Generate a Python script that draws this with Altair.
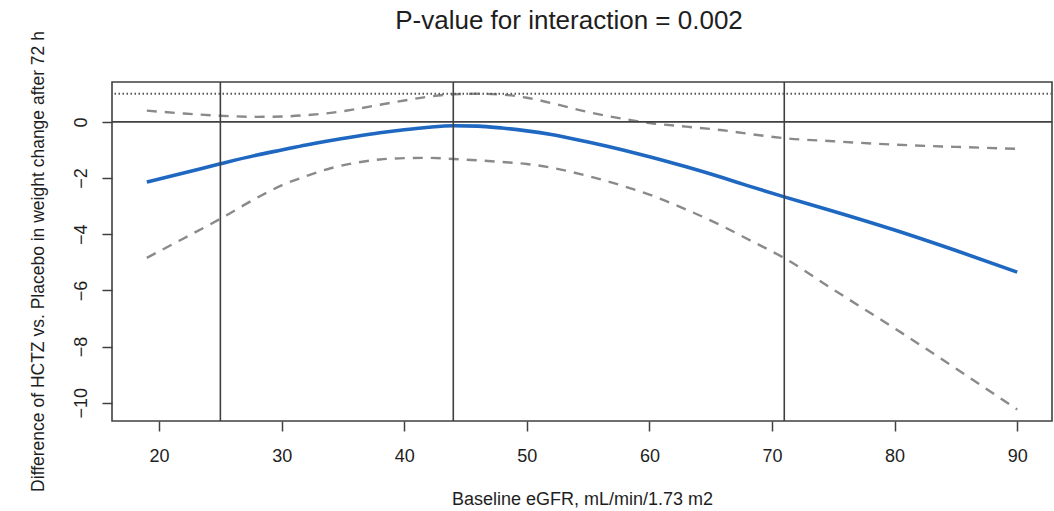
import altair as alt
import pandas as pd

# Baseline eGFR grid (mL/min/1.73 m2) and the fitted spline with its 95% CI
egfr = [19, 22, 25, 28, 30, 32, 34, 36, 38, 40, 42, 44, 46, 48, 50, 52, 55, 58,
        60, 63, 66, 68, 71, 75, 80, 85, 90]
estimate = [-2.14, -1.82, -1.49, -1.18, -1.00, -0.82, -0.66, -0.52, -0.39, -0.28,
            -0.19, -0.14, -0.15, -0.22, -0.32, -0.45, -0.72, -1.02, -1.24, -1.60,
            -1.99, -2.27, -2.67, -3.18, -3.85, -4.58, -5.35]
upper = [0.40, 0.30, 0.22, 0.18, 0.19, 0.24, 0.32, 0.45, 0.61, 0.76, 0.90, 0.98,
         1.00, 0.97, 0.86, 0.67, 0.35, 0.10, -0.04, -0.17, -0.30, -0.42, -0.58,
         -0.69, -0.81, -0.89, -0.96]
lower = [-4.84, -4.15, -3.45, -2.70, -2.26, -1.93, -1.65, -1.46, -1.34, -1.29,
         -1.28, -1.32, -1.37, -1.43, -1.50, -1.63, -1.93, -2.30, -2.59, -3.12,
         -3.72, -4.17, -4.85, -5.97, -7.35, -8.78, -10.24]

# Knot positions and reference levels
knots = [25, 44, 71]
zero_line = [0]
dotted_line = [1]

x_ticks = [20, 30, 40, 50, 60, 70, 80, 90]
y_ticks = [0, -2, -4, -6, -8, -10]

df = pd.DataFrame({"egfr": egfr, "estimate": estimate, "upper": upper, "lower": lower})

FONT = "Liberation Sans"
INK = "#1e1e1e"
FRAME = "#404040"

x_scale = alt.Scale(domain=[16.16, 92.84], nice=False, zero=False)
y_scale = alt.Scale(domain=[-10.65, 1.42], nice=False, zero=False)

x_axis = alt.Axis(
    values=x_ticks, title="Baseline eGFR, mL/min/1.73 m2", grid=False, domain=False,
    tickSize=10, tickColor=FRAME, tickWidth=1.5, labelFont=FONT, labelFontSize=18,
    labelColor=INK, labelPadding=16, labelFlush=False, titleFont=FONT, titleFontSize=18,
    titleFontWeight="normal", titleColor=INK, titlePadding=25,
)
y_axis = alt.Axis(
    values=y_ticks, title="Difference of HCTZ vs. Placebo in weight change after 72 h",
    grid=False, domain=False, tickSize=10, tickColor=FRAME, tickWidth=1.5,
    labelFont=FONT, labelFontSize=18, labelColor=INK, labelAngle=270,
    labelAlign="center", labelBaseline="alphabetic", labelPadding=16, labelFlush=False,
    titleFont=FONT, titleFontSize=17.5, titleFontWeight="normal", titleColor=INK,
    titlePadding=25, titleY=179,
)

base = alt.Chart(df)

fit = base.mark_line(color="#1f68c1", strokeWidth=3.6, interpolate="monotone").encode(
    x=alt.X("egfr:Q", scale=x_scale, axis=x_axis),
    y=alt.Y("estimate:Q", scale=y_scale, axis=y_axis),
)

ci_upper = base.mark_line(color="#8a8a8a", strokeWidth=2.4, strokeDash=[10, 8],
                          interpolate="monotone").encode(
    x=alt.X("egfr:Q", scale=x_scale, axis=x_axis),
    y=alt.Y("upper:Q", scale=y_scale, axis=y_axis),
)

ci_lower = base.mark_line(color="#8a8a8a", strokeWidth=2.4, strokeDash=[10, 8],
                          interpolate="monotone").encode(
    x=alt.X("egfr:Q", scale=x_scale, axis=x_axis),
    y=alt.Y("lower:Q", scale=y_scale, axis=y_axis),
)

knot_rules = alt.Chart(pd.DataFrame({"knot": knots})).mark_rule(
    color=FRAME, strokeWidth=1.6
).encode(x=alt.X("knot:Q", scale=x_scale, axis=x_axis))

zero_rule = alt.Chart(pd.DataFrame({"ref": zero_line})).mark_rule(
    color=FRAME, strokeWidth=1.6
).encode(y=alt.Y("ref:Q", scale=y_scale, axis=y_axis))

dotted_rule = alt.Chart(pd.DataFrame({"ref": dotted_line})).mark_rule(
    color="#555555", strokeWidth=2, strokeDash=[1.5, 2.5]
).encode(y=alt.Y("ref:Q", scale=y_scale, axis=y_axis))

chart = alt.layer(
    fit, ci_upper, ci_lower, knot_rules, zero_rule, dotted_rule
).properties(
    width=940,
    height=339,
    padding={"left": 112, "top": 82, "right": 2, "bottom": 90},
    autosize=alt.AutoSizeParams(type="none"),
    background="white",
    title=alt.Title(
        "P-value for interaction = 0.002", font=FONT, fontSize=26, fontWeight="normal",
        color=INK, offset=0, dy=3, dx=-13,
    ),
).configure_view(
    stroke=FRAME, strokeWidth=1.6
)

chart.save("out.html", embed_options={"renderer": "svg", "actions": False})
